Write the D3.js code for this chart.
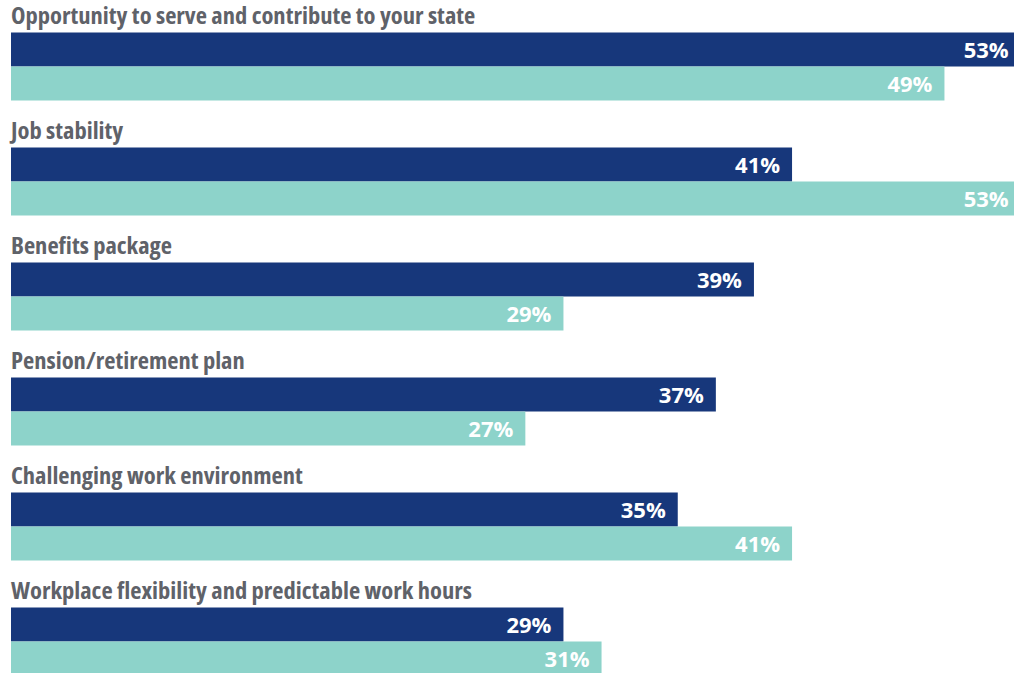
<!DOCTYPE html>
<html>
<head>
<meta charset="utf-8">
<script src="https://cdn.jsdelivr.net/npm/d3@7"></script>
<style>
  html, body { margin: 0; padding: 0; background: #fff; overflow: hidden; }
  .cat { font-family: "Open Sans", "Liberation Sans Narrow", sans-serif; font-stretch: condensed; font-weight: 700; font-size: 23px; fill: #5f6269; }
  .val { font-family: "Open Sans", sans-serif; font-weight: 700; font-size: 22px; fill: #fff; }
</style>
</head>
<body>
<svg id="chart" width="1014" height="673"></svg>
<script>
const categories = [
  "Opportunity to serve and contribute to your state",
  "Job stability",
  "Benefits package",
  "Pension/retirement plan",
  "Challenging work environment",
  "Workplace flexibility and predictable work hours"
];
const seriesA = [53, 41, 39, 37, 35, 29];
const seriesB = [49, 53, 29, 27, 41, 31];
const seriesColors = ["#17377b", "#8dd3ca"];

const svg = d3.select("#chart");

const barH = 34;
const step = 115;
const x = d3.scaleLinear().domain([0, 53]).range([11, 11 + 19.05 * 53]);
// band scale positions each row; the two bars sit at the bottom of the band
const y = d3.scaleBand()
  .domain(categories)
  .range([32.5 - (step - 2 * barH), 32.5 + 2 * barH + 5 * step])
  .paddingInner(0).paddingOuter(0);
const barTop = c => y(c) + y.bandwidth() - 2 * barH;

const rows = categories.map((c, i) => ({ c, a: seriesA[i], b: seriesB[i] }));

const g = svg.selectAll("g.row").data(rows).join("g").attr("class", "row");

// category titles, widened slightly from the condensed face
g.append("text").attr("class", "cat")
  .attr("transform", d => `translate(11,${barTop(d.c) - 9}) scale(1.066,1)`)
  .text(d => d.c);

[["a", 0], ["b", 1]].forEach(([key, k]) => {
  g.append("rect")
    .attr("x", x(0))
    .attr("y", d => barTop(d.c) + k * barH)
    .attr("width", d => x(d[key]) - x(0))
    .attr("height", barH)
    .attr("fill", seriesColors[k]);
  g.append("text").attr("class", "val")
    .attr("x", d => x(d[key]) - 12)
    .attr("y", d => barTop(d.c) + k * barH + barH / 2 + 8)
    .attr("text-anchor", "end")
    .text(d => d[key] + "%");
});
</script>
</body>
</html>
